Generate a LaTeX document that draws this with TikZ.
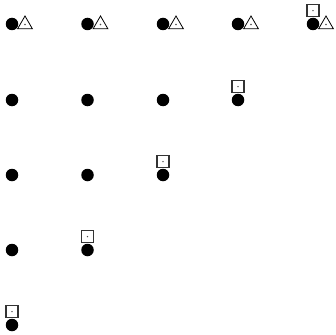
\documentclass[tikz,border=0pt]{standalone}
\usetikzlibrary{shapes.geometric}
\begin{document}
\begin{tikzpicture}[x=1pt,y=-1pt,
  dotnode/.style={circle,fill=black,draw=none,minimum size=12.5pt,inner sep=0pt},
  trinode/.style={regular polygon,regular polygon sides=3,draw=black,line width=0.8pt,minimum size=17pt,inner sep=0pt},
  sqnode/.style={rectangle,draw=black!80,line width=1.3pt,minimum size=12pt,inner sep=0pt},
  pip/.style={circle,fill=black!70,minimum size=1.6pt,inner sep=0pt}]
\useasboundingbox (0,0) rectangle (336,334);
\foreach \i/\x in {1/12,2/87.5,3/163,4/238,5/313}{
  \foreach \j/\y in {1/24,2/100,3/175,4/250,5/325}{
    \pgfmathtruncatemacro{\s}{\i+\j}
    \ifnum\s<7
      \node[dotnode] (d\i\j) at (\x,\y) {};
    \fi
  }
}
\foreach \i/\x in {1/12,2/87.5,3/163,4/238,5/313}{
  \node[trinode] (t\i) at (\x+13,24.5) {};
  \node[pip] (tp\i) at (t\i.center) {};
}
\foreach \i/\j in {5/1,4/2,3/3,2/4,1/5}{
  \node[sqnode,anchor=south] (s\i\j) at ([yshift=0.3pt]d\i\j.north) {};
  \node[pip] (sp\i\j) at (s\i\j.center) {};
}
\end{tikzpicture}
\end{document}
